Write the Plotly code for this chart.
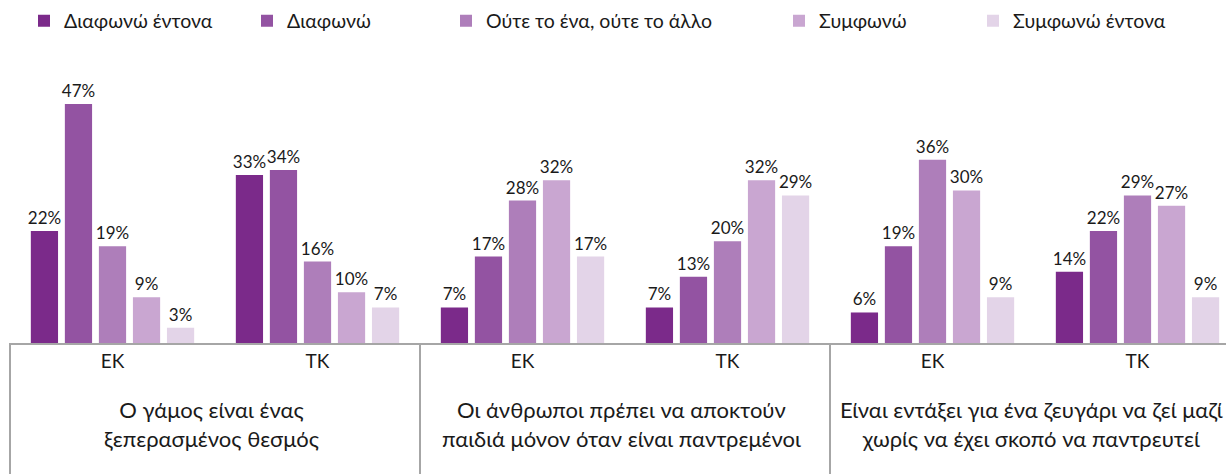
import plotly.graph_objects as go

# ---- data ----
statements = [
    "Ο γάμος είναι ένας<br>ξεπερασμένος θεσμός",
    "Οι άνθρωποι πρέπει να αποκτούν<br>παιδιά μόνον όταν είναι παντρεμένοι",
    "Είναι εντάξει για ένα ζευγάρι να ζεί μαζί<br>χωρίς να έχει σκοπό να παντρευτεί",
]
tick_labels = ["ΕΚ", "ΤΚ", "ΕΚ", "ΤΚ", "ΕΚ", "ΤΚ"]
series_names = ["Διαφωνώ έντονα", "Διαφωνώ", "Ούτε το ένα, ούτε το άλλο", "Συμφωνώ", "Συμφωνώ έντονα"]

strongly_disagree = [22, 33, 7, 7, 6, 14]
disagree = [47, 34, 17, 13, 19, 22]
neither = [19, 16, 28, 20, 36, 29]
agree = [9, 10, 32, 32, 30, 27]
strongly_agree = [3, 7, 17, 29, 9, 9]
series_values = [strongly_disagree, disagree, neither, agree, strongly_agree]

colors = ["#7B2A8A", "#9353A2", "#AE7EBA", "#C9A6D1", "#E3D4E8"]

FONT = "Lato, 'Open Sans', sans-serif"
TEXT_COLOR = "#1a1a1a"
LINE_COLOR = "#A6A6A6"

x_pos = list(range(len(tick_labels)))

fig = go.Figure()
legend_ids = ["legend", "legend2", "legend3", "legend4", "legend5"]
for name, vals, col, lg in zip(series_names, series_values, colors, legend_ids):
    fig.add_trace(go.Bar(
        x=x_pos, y=vals, name=name, legend=lg,
        marker=dict(color=col, line=dict(width=0)),
        texttemplate="%{y}%", textposition="outside", cliponaxis=False,
        constraintext="none",
        textfont=dict(family=FONT, size=17, color=TEXT_COLOR),
        hovertemplate="%{y}%<extra>" + name + "</extra>",
    ))

W, H = 1226, 474
ml, mr, mt, mb = 10, 0, 60, 131
plot_w = W - ml - mr

# legend placement (square left edges in px)
legend_px = [45, 268, 467, 800, 994]
legend_layout = {}
for lg, px in zip(legend_ids, legend_px):
    legend_layout[lg] = dict(
        xref="container", yref="container",
        x=(px - 21) / W, xanchor="left",
        y=1 - 21 / H, yanchor="middle",
        orientation="h",
        font=dict(family=FONT, size=19.5, color=TEXT_COLOR),
        bgcolor="rgba(0,0,0,0)",
    )

cat_px = 205
x_right = -0.5 + plot_w / cat_px

fig.update_layout(
    width=W, height=H,
    margin=dict(l=ml, r=mr, t=mt, b=mb, autoexpand=False),
    paper_bgcolor="white", plot_bgcolor="white",
    barmode="group", bargap=0.17, bargroupgap=0.2,
    showlegend=True,
    font=dict(family=FONT, size=17, color=TEXT_COLOR),
    xaxis=dict(
        range=[-0.5, x_right], tickvals=x_pos, ticktext=tick_labels,
        showline=True, linecolor=LINE_COLOR, linewidth=2,
        showgrid=False, zeroline=False, ticks="", ticklabelstandoff=0,
        automargin=False,
        tickfont=dict(family=FONT, size=19, color=TEXT_COLOR),
    ),
    yaxis=dict(range=[0, 55.63], visible=False, showgrid=False, zeroline=False,
               automargin=False),
    **legend_layout,
)

# group separators (vertical lines below the axis)
shapes = [dict(type="line", xref="paper", yref="paper", x0=0, x1=0, y0=0, y1=-0.6,
               line=dict(color=LINE_COLOR, width=2))]
for b in [1.5, 3.5]:
    shapes.append(dict(type="line", xref="x", yref="paper", x0=b, x1=b, y0=0, y1=-0.6,
                       line=dict(color=LINE_COLOR, width=2)))
fig.update_layout(shapes=shapes)

for i, s in enumerate(statements):
    fig.add_annotation(
        x=2 * i + 0.5, xref="x", y=-0.285, yref="paper",
        text=s, showarrow=False, xanchor="center", yanchor="middle", xshift=-4,
        font=dict(family=FONT, size=22, color=TEXT_COLOR), align="center",
    )

fig.write_html(
    "out.html",
    config={"displayModeBar": False},
    post_script="document.body.style.margin='0';document.body.style.overflow='hidden';",
)
